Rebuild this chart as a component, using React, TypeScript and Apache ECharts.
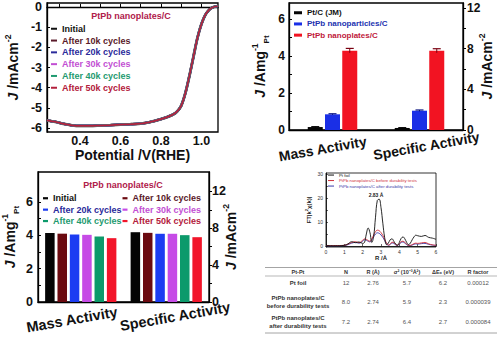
import React, { useEffect, useRef } from 'react';
import * as echarts from 'echarts';

const FONT = '"Liberation Sans", Arial, Helvetica, sans-serif';

// ---------- Panel A: ORR polarization curves ----------
const lsvPotential = [0.237, 0.28, 0.32, 0.36, 0.40, 0.45, 0.50, 0.55, 0.60, 0.65, 0.70, 0.74, 0.77, 0.80, 0.83, 0.86, 0.88, 0.90, 0.92, 0.94, 0.96, 0.98, 1.00, 1.02, 1.04, 1.06, 1.08];
const lsvCurrent = [-5.62, -5.70, -5.80, -5.87, -5.90, -5.90, -5.88, -5.86, -5.83, -5.81, -5.78, -5.72, -5.65, -5.56, -5.46, -5.33, -5.18, -4.90, -4.30, -3.45, -2.50, -1.55, -0.85, -0.38, -0.12, 0.0, 0.04];
const cycleNames = ['Initial', 'After 10k cycles', 'After 20k cycles', 'After 30k cycles', 'After 40k cycles', 'After 50k cycles'];
const cycleTextColors = ['#111111', '#5a1a2a', '#2b2b9b', '#c24fd3', '#1f9a70', '#b3203c'];
const cycleLineColors = ['#111111', '#5a1a2a', '#2b2b9b', '#c24fd3', '#1f9a70', '#b81f3e'];
const cycleBarColors = ['#050505', '#6b0a10', '#1c3cf2', '#c64be6', '#0c9a6b', '#f2152a'];
const lsvXTickLabels = [0.4, 0.6, 0.8, 1.0];
const lsvXTicks = [0.3, 0.4, 0.5, 0.6, 0.7, 0.8, 0.9, 1.0];
const lsvYTickLabels = [-6, -5, -4, -3, -2, -1, 0];

// ---------- Panel B: activity comparison ----------
const activityCategories = ['Mass Activity', 'Specific Activity'];
const catalystNames = ['Pt/C (JM)', 'PtPb nanoparticles/C', 'PtPb nanoplates/C'];
const catalystColors = ['#050505', '#1a2fe6', '#f21322'];
const catalystTextColors = ['#111111', '#2233b0', '#c0183a'];
const massActivity = [0.16, 0.85, 4.30];
const massError = [0.02, 0.03, 0.12];
const specificActivity = [0.2, 1.9, 7.8];
const specificError = [0.03, 0.07, 0.2];
const massTickLabels = [0, 2, 4, 6];
const massTicks = [0, 1, 2, 3, 4, 5, 6];
const specificTickLabels = [0, 4, 8, 12];
const specificTicks = [0, 2, 4, 6, 8, 10, 12];

// ---------- Panel C: durability ----------
const durabilityMass = [4.14, 4.10, 4.05, 4.03, 3.93, 3.83];
const durabilitySpecific = [7.57, 7.50, 7.40, 7.40, 7.25, 7.03];

// ---------- Panel D: EXAFS ----------
const exafsR = [0, 0.5, 1.0, 1.2, 1.4, 1.6, 1.8, 2.0, 2.1, 2.2, 2.3, 2.4, 2.5, 2.6, 2.7, 2.8, 2.9, 3.0, 3.1, 3.2, 3.3, 3.4, 3.5, 3.6, 3.7, 3.8, 3.9, 4.0, 4.1, 4.2, 4.3, 4.4, 4.5, 4.6, 4.7, 4.8, 4.9, 5.0, 5.2, 5.4, 5.6, 5.8, 6.0];
const exafsPtFoil = [0.2, 0.1, 0.3, 0.9, 1.8, 1.4, 1.7, 1.1, 1.5, 5.0, 7.5, 5.5, 1.5, 4.0, 12.0, 19.0, 19.5, 16.0, 9.5, 3.5, 0.6, 1.2, 2.6, 3.0, 2.0, 0.8, 0.4, 1.5, 3.2, 3.8, 3.0, 1.5, 0.6, 1.2, 2.6, 3.8, 4.5, 4.3, 4.0, 4.4, 3.6, 3.3, 2.8];
const exafsBefore = [0.2, 0.2, 0.3, 0.8, 1.5, 1.8, 1.4, 2.4, 3.0, 2.8, 2.3, 2.0, 3.0, 4.6, 6.0, 6.6, 6.4, 5.6, 4.4, 2.8, 1.3, 0.4, 0.8, 1.6, 1.4, 0.7, 0.3, 1.0, 1.8, 2.0, 1.5, 0.8, 0.3, 0.3, 0.6, 1.0, 1.2, 1.1, 1.3, 1.5, 0.9, 0.5, 0.3];
const exafsAfter = [0.1, 0.1, 0.2, 0.6, 1.2, 1.5, 1.2, 2.0, 2.6, 2.4, 2.0, 1.7, 2.6, 3.9, 5.0, 5.5, 5.3, 4.6, 3.6, 2.3, 1.0, 0.3, 0.6, 1.3, 1.1, 0.5, 0.2, 0.8, 1.5, 1.7, 1.2, 0.6, 0.2, 0.2, 0.4, 0.7, 0.9, 0.8, 1.0, 1.1, 0.7, 0.4, 0.2];
const exafsNames = ['Pt foil', 'PtPb nanoplates/C before durability tests', 'PtPb nanoplates/C after durability tests'];
const exafsColors = ['#111111', '#d0303a', '#3a3aa8'];
const exafsXTicks = [0, 1, 2, 3, 4, 5, 6];
const exafsYTicks = [0, 10, 20, 30];
const exafsPeakLabel = '2.83 Å';

// ---------- Table ----------
const tableHeader = ['Pt-Pt', 'N', 'R (Å)', 'σ² (10⁻³Å²)', 'ΔE₀ (eV)', 'R factor'];
const tableRows = [
  ['Pt foil', '12', '2.76', '5.7', '6.2', '0.00012'],
  ['PtPb nanoplates/C\nbefore durability tests', '8.0', '2.74', '5.9', '2.3', '0.000039'],
  ['PtPb nanoplates/C\nafter durability tests', '7.2', '2.74', '6.4', '2.7', '0.000084'],
];

const B_W = 15;
const B_GAP = 0.15;
const C_W = 9.5;
const C_GAP = 0.3;

function tickFont(size: number, color = '#111') {
  return { fontSize: size, fontWeight: 'bold', color, fontFamily: FONT };
}

function nameStyle(size: number) {
  return {
    fontSize: size, fontWeight: 'bold', color: '#111', fontFamily: FONT, lineHeight: size + 6,
    rich: {
      j: { fontSize: size, fontWeight: 'bold', fontStyle: 'italic', color: '#111', fontFamily: FONT, lineHeight: size + 6 },
      t: { fontSize: size, fontWeight: 'bold', color: '#111', fontFamily: FONT, lineHeight: size + 6 },
      sup: { fontSize: size * 0.62, fontWeight: 'bold', color: '#111', fontFamily: FONT, verticalAlign: 'top', lineHeight: size * 0.62 },
      sub: { fontSize: size * 0.58, fontWeight: 'bold', color: '#111', fontFamily: FONT, verticalAlign: 'bottom', lineHeight: size * 0.58 },
    },
  };
}

function errRender(offset: number, half: number, color: string) {
  return (params: any, api: any) => {
    const x = api.value(0);
    const v = api.value(1);
    const e = api.value(2);
    const hi = api.coord([x, v + e]);
    const lo = api.coord([x, v - e]);
    const cx = hi[0] + offset;
    return {
      type: 'group',
      children: [
        { type: 'line', shape: { x1: cx, y1: hi[1], x2: cx, y2: lo[1] }, style: { stroke: color, lineWidth: 1 } },
        { type: 'line', shape: { x1: cx - half, y1: hi[1], x2: cx + half, y2: hi[1] }, style: { stroke: color, lineWidth: 1.2 } },
      ],
    };
  };
}

function buildOption() {
  const border = { show: true, borderColor: '#000', borderWidth: 1.3, backgroundColor: '#fff', outerBoundsMode: 'none' };
  const grid = [
    { ...border, left: 47, top: 3, width: 171, height: 129 },
    { ...border, left: 289, top: 3, width: 174, height: 127 },
    { ...border, left: 38, top: 172, width: 171, height: 130 },
    { ...border, left: 326, top: 173, width: 110, height: 74, borderWidth: 0.8 },
  ];
  const axisLine = { show: true, lineStyle: { color: '#000', width: 1.3 } };

  const catLabel = (size: number, margin: number, shiftM: number, shiftS: number) => ({
    rotate: 10, align: 'center', verticalAlign: 'middle', margin, interval: 0,
    formatter: (v: string, idx: number) => (idx === 0 ? '{m|' + v + '}' : '{s|' + v + '}'),
    rich: {
      m: { ...tickFont(size), padding: [0, shiftM, 0, 0] },
      s: { ...tickFont(size), padding: [0, 0, 0, shiftS] },
    },
  });

  const xAxis: any[] = [
    {
      type: 'value', gridIndex: 0, min: 0.237, max: 1.082, axisLine,
      axisTick: { show: true, inside: true, length: 3, customValues: lsvXTicks, lineStyle: { color: '#000', width: 1 } },
      axisLabel: { customValues: lsvXTickLabels, formatter: (v: number) => v.toFixed(1), margin: 3, lineHeight: 12, ...tickFont(12.5) },
      splitLine: { show: false },
      name: 'Potential /V(RHE)', nameLocation: 'middle', nameGap: 15.5, nameMoveOverlap: false,
      nameTextStyle: { fontSize: 14, fontWeight: 'bold', color: '#111', fontFamily: FONT, lineHeight: 14 },
    },
    {
      type: 'category', gridIndex: 1, data: activityCategories, axisLine, axisTick: { show: false },
      axisLabel: catLabel(14, 17, 20, 14),
    },
    { type: 'category', gridIndex: 1, data: activityCategories, show: false },
    {
      type: 'category', gridIndex: 2, data: activityCategories, axisLine, axisTick: { show: false },
      axisLabel: catLabel(14.5, 16, 18, 18),
    },
    { type: 'category', gridIndex: 2, data: activityCategories, show: false },
    {
      type: 'value', gridIndex: 3, min: 0, max: 6, axisLine: { show: true, lineStyle: { color: '#000', width: 0.8 } },
      axisTick: { show: true, inside: true, length: 2, customValues: exafsXTicks, lineStyle: { color: '#000', width: 0.6 } },
      axisLabel: { customValues: exafsXTicks, margin: 2, fontSize: 5, color: '#333', fontFamily: FONT },
      splitLine: { show: false },
      name: 'R /Å', nameLocation: 'middle', nameGap: 8, nameMoveOverlap: false,
      nameTextStyle: { fontSize: 6, fontWeight: 'bold', color: '#222', fontFamily: FONT },
    },
  ];

  const yAxis: any[] = [
    {
      type: 'value', gridIndex: 0, min: -6.2, max: 0.2, axisLine,
      axisTick: { show: true, inside: true, length: 3, customValues: lsvYTickLabels, lineStyle: { color: '#000', width: 1 } },
      axisLabel: { customValues: lsvYTickLabels, formatter: (v: number) => String(Math.round(v)), margin: 5, ...tickFont(12.5) },
      splitLine: { show: false },
      name: '{j|J}{t| /mAcm}{sup|-2}', nameLocation: 'middle', nameGap: 24, nameMoveOverlap: false, nameTextStyle: nameStyle(14),
    },
    {
      type: 'value', gridIndex: 1, position: 'left', min: 0, max: 6.88, axisLine,
      axisTick: { show: true, inside: true, length: 3, customValues: massTicks, lineStyle: { color: '#000', width: 1 } },
      axisLabel: { customValues: massTickLabels, margin: 4, ...tickFont(12) },
      splitLine: { show: false },
      name: '{j|J}{t| /Amg}{sup|-1}{sub|Pt}', nameLocation: 'middle', nameGap: 19, nameMoveOverlap: false, nameTextStyle: nameStyle(14),
    },
    {
      type: 'value', gridIndex: 1, position: 'right', min: 0, max: 12.5, axisLine,
      axisTick: { show: true, inside: false, length: 3, customValues: specificTicks, lineStyle: { color: '#000', width: 1 } },
      axisLabel: { customValues: specificTickLabels, margin: 4, ...tickFont(12) },
      splitLine: { show: false },
      name: '{j|J}{t| /mAcm}{sup|-2}', nameLocation: 'middle', nameGap: 14, nameRotate: 90, nameMoveOverlap: false, nameTextStyle: nameStyle(14),
    },
    {
      type: 'value', gridIndex: 2, position: 'left', min: 0, max: 7.8, axisLine,
      axisTick: { show: true, inside: true, length: 3, customValues: massTicks, lineStyle: { color: '#000', width: 1 } },
      axisLabel: { customValues: massTickLabels, margin: 5, ...tickFont(12.5) },
      splitLine: { show: false },
      name: '{j|J}{t| /Amg}{sup|-1}{sub|Pt}', nameLocation: 'middle', nameGap: 18, nameMoveOverlap: false, nameTextStyle: nameStyle(14),
    },
    {
      type: 'value', gridIndex: 2, position: 'right', min: 0, max: 14.1, axisLine,
      axisTick: { show: true, inside: false, length: 3, customValues: specificTicks, lineStyle: { color: '#000', width: 1 } },
      axisLabel: { customValues: specificTickLabels, margin: 3, ...tickFont(12.5) },
      splitLine: { show: false },
      name: '{j|J}{t| /mAcm}{sup|-2}', nameLocation: 'middle', nameGap: 12, nameRotate: 90, nameMoveOverlap: false, nameTextStyle: nameStyle(14),
    },
    {
      type: 'value', gridIndex: 3, min: -0.4, max: 30.4, axisLine: { show: true, lineStyle: { color: '#000', width: 0.8 } },
      axisTick: { show: true, inside: true, length: 2, customValues: [0, 5, 10, 15, 20, 25, 30], lineStyle: { color: '#000', width: 0.6 } },
      axisLabel: { customValues: exafsYTicks, margin: 3, fontSize: 5, color: '#333', fontFamily: FONT },
      splitLine: { show: false },
      name: '{t|FT|k}{sup|2}{t|χ(k)|}', nameLocation: 'middle', nameGap: 13, nameMoveOverlap: false,
      nameTextStyle: {
        fontSize: 6, fontWeight: 'bold', color: '#222', fontFamily: FONT,
        rich: {
          t: { fontSize: 6, fontWeight: 'bold', color: '#222', fontFamily: FONT, lineHeight: 9 },
          sup: { fontSize: 4, fontWeight: 'bold', color: '#222', fontFamily: FONT, verticalAlign: 'top', lineHeight: 4 },
        },
      },
    },
  ];

  const series: any[] = [];
  // Panel A lines
  cycleNames.forEach((n, i) => {
    series.push({
      type: 'line', name: n, xAxisIndex: 0, yAxisIndex: 0,
      data: lsvPotential.map((x, k) => [x, lsvCurrent[k]]),
      symbol: 'none', smooth: 0.3, color: cycleLineColors[i],
      lineStyle: { width: i === 0 ? 2.8 : i === 5 ? 1.7 : 2.2, color: cycleLineColors[i] },
      z: 2 + i,
    });
  });
  // Panel B bars
  catalystNames.forEach((n, i) => {
    series.push({
      type: 'bar', name: n, xAxisIndex: 1, yAxisIndex: 1, data: [massActivity[i], '-'],
      barWidth: B_W, barGap: B_GAP * 100 + '%', itemStyle: { color: catalystColors[i] }, color: catalystColors[i],
    });
    series.push({
      type: 'bar', name: n, xAxisIndex: 2, yAxisIndex: 2, data: ['-', specificActivity[i]],
      barWidth: B_W, barGap: B_GAP * 100 + '%', itemStyle: { color: catalystColors[i] }, color: catalystColors[i],
    });
    const off = (i - 1) * B_W * (1 + B_GAP);
    const ec = i === 2 ? '#7a0010' : i === 1 ? '#0a1480' : '#000';
    series.push({
      type: 'custom', xAxisIndex: 1, yAxisIndex: 1, data: [[0, massActivity[i], massError[i]]],
      renderItem: errRender(off, 4, ec), z: 10, silent: true,
    });
    series.push({
      type: 'custom', xAxisIndex: 2, yAxisIndex: 2, data: [[1, specificActivity[i], specificError[i]]],
      renderItem: errRender(off, 4, ec), z: 10, silent: true,
    });
  });
  // Panel C bars
  cycleNames.forEach((n, i) => {
    series.push({
      type: 'bar', name: n, xAxisIndex: 3, yAxisIndex: 3, data: [durabilityMass[i], '-'],
      barWidth: C_W, barGap: C_GAP * 100 + '%', itemStyle: { color: cycleBarColors[i] },
    });
    series.push({
      type: 'bar', name: n, xAxisIndex: 4, yAxisIndex: 4, data: ['-', durabilitySpecific[i]],
      barWidth: C_W, barGap: C_GAP * 100 + '%', itemStyle: { color: cycleBarColors[i] },
    });
  });
  // Panel D lines
  const exafsSeries = [exafsPtFoil, exafsBefore, exafsAfter];
  exafsNames.forEach((n, i) => {
    series.push({
      type: 'line', name: n, xAxisIndex: 5, yAxisIndex: 5,
      data: exafsR.map((r, k) => [r, exafsSeries[i][k]]),
      symbol: 'none', smooth: 0.4, color: exafsColors[i],
      lineStyle: { width: 0.9, color: exafsColors[i] }, z: 5 - i,
    });
  });

  const legendBase = { orient: 'vertical', icon: 'rect', selectedMode: false, padding: 0 };
  const legend: any[] = [
    {
      ...legendBase, left: 51, top: 24, itemWidth: 6, itemHeight: 2, itemGap: 2.3,
      textStyle: { fontSize: 9, fontWeight: 'bold', fontFamily: FONT, lineHeight: 9.5 },
      data: cycleNames.map((n, i) => ({ name: n, itemStyle: { color: cycleTextColors[i], borderWidth: 0 }, lineStyle: { width: 0 }, textStyle: { color: cycleTextColors[i] } })),
    },
    {
      ...legendBase, left: 294, top: 8.5, itemWidth: 8, itemHeight: 3, itemGap: 2.7,
      textStyle: { fontSize: 8, fontWeight: 'bold', fontFamily: FONT, lineHeight: 8.5 },
      data: catalystNames.map((n, i) => ({ name: n, itemStyle: { color: catalystColors[i] }, textStyle: { color: catalystTextColors[i] } })),
    },
    {
      ...legendBase, left: 43, top: 193.5, itemWidth: 5, itemHeight: 2.2, itemGap: 1.9,
      textStyle: { fontSize: 9, fontWeight: 'bold', fontFamily: FONT, lineHeight: 9.5 },
      data: [0, 2, 4].map((i) => ({ name: cycleNames[i], itemStyle: { color: cycleBarColors[i] }, textStyle: { color: cycleTextColors[i] } })),
    },
    {
      ...legendBase, left: 122.5, top: 193.5, itemWidth: 5, itemHeight: 2.2, itemGap: 1.9,
      textStyle: { fontSize: 9, fontWeight: 'bold', fontFamily: FONT, lineHeight: 9.5 },
      data: [1, 3, 5].map((i) => ({ name: cycleNames[i], itemStyle: { color: cycleBarColors[i] }, textStyle: { color: cycleTextColors[i] } })),
    },
    {
      ...legendBase, left: 328, top: 172.8, itemWidth: 6, itemHeight: 1, itemGap: 1,
      textStyle: { fontSize: 4.3, fontFamily: FONT, lineHeight: 4.5 },
      data: exafsNames.map((n, i) => ({ name: n, itemStyle: { color: exafsColors[i] }, lineStyle: { width: 0 }, textStyle: { color: exafsColors[i] } })),
    },
  ];

  // graphic: titles, annotation, table
  const colX = [298, 346, 373, 407, 443, 478];
  const rowY = [283, 301.5, 322];
  const elements: any[] = [
    { type: 'text', x: 131, y: 16, style: { text: 'PtPb nanoplates/C', fill: '#b0204a', font: 'bold 9px ' + FONT, textAlign: 'center', textVerticalAlign: 'middle' } },
    { type: 'text', x: 123, y: 184.5, style: { text: 'PtPb nanoplates/C', fill: '#b0204a', font: 'bold 9px ' + FONT, textAlign: 'center', textVerticalAlign: 'middle' } },
    { type: 'text', x: 376, y: 195, style: { text: exafsPeakLabel, fill: '#222', font: 'bold 5px ' + FONT, textAlign: 'center', textVerticalAlign: 'middle' } },
    { type: 'line', shape: { x1: 265, y1: 267.5, x2: 497, y2: 267.5 }, style: { stroke: '#9a9a9a', lineWidth: 0.9 } },
    { type: 'line', shape: { x1: 265, y1: 276, x2: 497, y2: 276 }, style: { stroke: '#9a9a9a', lineWidth: 0.7 } },
    { type: 'line', shape: { x1: 265, y1: 333, x2: 497, y2: 333 }, style: { stroke: '#9a9a9a', lineWidth: 0.9 } },
  ];
  tableHeader.forEach((h, c) => {
    elements.push({ type: 'text', x: colX[c], y: 271.8, style: { text: h, fill: '#333', font: 'bold 5.5px ' + FONT, textAlign: 'center', textVerticalAlign: 'middle' } });
  });
  tableRows.forEach((row, r) => {
    row.forEach((cell, c) => {
      elements.push({
        type: 'text', x: colX[c], y: rowY[r],
        style: {
          text: cell, fill: c === 0 ? '#333' : '#555',
          font: (c === 0 ? 'bold ' : '') + '6px ' + FONT,
          textAlign: 'center', textVerticalAlign: 'middle', lineHeight: 8,
        },
      });
    });
  });

  return {
    animation: false,
    backgroundColor: '#fff',
    textStyle: { fontFamily: FONT },
    grid, xAxis, yAxis, series, legend,
    graphic: { elements },
  };
}

export default function App() {
  const ref = useRef<HTMLDivElement>(null);
  useEffect(() => {
    if (!ref.current) return;
    const chart = echarts.init(ref.current, null, { renderer: 'svg' });
    chart.setOption(buildOption() as any);
    return () => chart.dispose();
  }, []);
  return <div ref={ref} style={{ position: 'absolute', left: 0, top: 0, width: 500, height: 341, background: '#fff' }} />;
}
